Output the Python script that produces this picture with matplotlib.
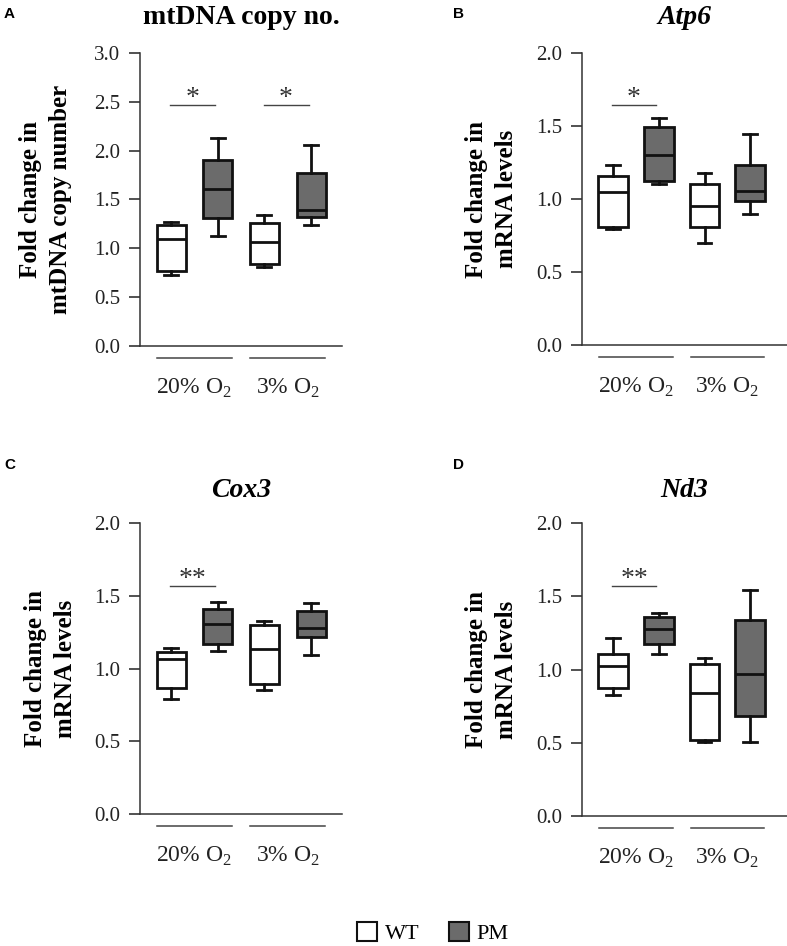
import matplotlib.pyplot as plt
from matplotlib.patches import Patch
from matplotlib.transforms import blended_transform_factory

plt.rcParams['font.family'] = ['Liberation Serif', 'DejaVu Serif']
plt.rcParams['mathtext.fontset'] = 'custom'
plt.rcParams['mathtext.rm'] = 'Liberation Serif'

genotypes = ['WT', 'PM']
groups = ['20% O$_2$', '3% O$_2$']
fills = ['white', '#6b6b6b']

# each box: whislo, q1, med, q3, whishi  (WT 20%, PM 20%, WT 3%, PM 3%)
mtdna_stats = [[0.73, 0.77, 1.10, 1.24, 1.27],
               [1.13, 1.31, 1.61, 1.905, 2.13],
               [0.81, 0.835, 1.06, 1.255, 1.34],
               [1.24, 1.325, 1.39, 1.775, 2.06]]
atp6_stats = [[0.793, 0.807, 1.047, 1.155, 1.23],
              [1.10, 1.125, 1.30, 1.49, 1.554],
              [0.697, 0.807, 0.949, 1.10, 1.177],
              [0.898, 0.987, 1.056, 1.23, 1.445]]
cox3_stats = [[0.793, 0.866, 1.068, 1.113, 1.14],
              [1.123, 1.171, 1.306, 1.411, 1.457],
              [0.85, 0.893, 1.136, 1.297, 1.324],
              [1.09, 1.216, 1.278, 1.397, 1.45]]
nd3_stats = [[0.823, 0.875, 1.024, 1.104, 1.218],
             [1.109, 1.177, 1.275, 1.355, 1.383],
             [0.503, 0.517, 0.837, 1.04, 1.081],
             [0.503, 0.686, 0.967, 1.339, 1.545]]

# significance: (box a, box b, bar height, label)
mtdna_sig = [(1, 2, 2.47, '*'), (3, 4, 2.47, '*')]
atp6_sig = [(1, 2, 1.646, '*')]
cox3_sig = [(1, 2, 1.565, '**')]
nd3_sig = [(1, 2, 1.573, '**')]

panels = [
    dict(letter='A', title='mtDNA copy no.', italic=False, stats=mtdna_stats, sig=mtdna_sig,
         ylabel='Fold change in\nmtDNA copy number', ymax=3.0,
         rect=[140, 53, 342, 346], xlim=(0.336, 4.66), width=0.62, tpad=21),
    dict(letter='B', title='Atp6', italic=True, stats=atp6_stats, sig=atp6_sig,
         ylabel='Fold change in\nmRNA levels', ymax=2.0,
         rect=[582, 53, 787, 345], xlim=(0.323, 4.80), width=0.65, tpad=21),
    dict(letter='C', title='Cox3', italic=True, stats=cox3_stats, sig=cox3_sig,
         ylabel='Fold change in\nmRNA levels', ymax=2.0,
         rect=[140, 523, 342, 814], xlim=(0.336, 4.66), width=0.62, tpad=19),
    dict(letter='D', title='Nd3', italic=True, stats=nd3_stats, sig=nd3_sig,
         ylabel='Fold change in\nmRNA levels', ymax=2.0,
         rect=[582, 523, 787, 816], xlim=(0.323, 4.80), width=0.65, tpad=19),
]
letter_pos = {'A': (4, 14), 'B': (453, 14), 'C': (4, 465), 'D': (453, 465)}
label_right = {'A': 72, 'B': 518, 'C': 77, 'D': 518}

W, H = 787, 946
fig = plt.figure(figsize=(W / 100, H / 100), dpi=100)

for p in panels:
    x0, y0, x1, y1 = p['rect']
    ax = fig.add_axes([x0 / W, 1 - y1 / H, (x1 - x0) / W, (y1 - y0) / H])
    keys = ['whislo', 'q1', 'med', 'q3', 'whishi']
    stats = [dict(zip(keys, s)) for s in p['stats']]
    bp = ax.bxp(stats, positions=[1, 2, 3, 4], widths=p['width'], capwidths=0.3,
                showfliers=False, patch_artist=True,
                boxprops=dict(edgecolor='#111111', linewidth=2.0),
                whiskerprops=dict(color='#111111', linewidth=2.0),
                capprops=dict(color='#111111', linewidth=2.0),
                medianprops=dict(color='#111111', linewidth=2.0))
    for i, box in enumerate(bp['boxes']):
        box.set_facecolor(fills[i % 2])

    ax.set_xlim(*p['xlim'])
    ax.set_ylim(0, p['ymax'])
    ax.set_yticks([v * 0.5 for v in range(int(p['ymax'] / 0.5) + 1)])
    ax.yaxis.set_major_formatter(plt.FormatStrFormatter('%.1f'))
    ax.set_xticks([1.5, 3.5])
    ax.set_xticklabels(groups, fontsize=17, color='#222222')
    ax.tick_params(axis='x', length=0, pad=22)
    ax.tick_params(axis='y', length=8, width=1.1, pad=6, labelsize=15,
                   colors='#222222', direction='out')
    for s in ['top', 'right']:
        ax.spines[s].set_visible(False)
    for s in ['left', 'bottom']:
        ax.spines[s].set_linewidth(1.1)
        ax.spines[s].set_color('#333333')

    # group underline bars
    tr = blended_transform_factory(ax.transData, ax.transAxes)
    yb = -12 / (y1 - y0)
    for c in [1.5, 3.5]:
        ax.plot([c - 0.8, c + 0.8], [yb, yb], color='#444444', lw=1.1,
                transform=tr, clip_on=False)

    for a, b, y, lab in p['sig']:
        ax.plot([a - 0.02, b - 0.05], [y, y], color='#444444', lw=1.0)
        ax.text((a + b) / 2 - 0.04, y, lab, ha='center', va='baseline',
                fontsize=20, color='#333333')

    ax.set_ylabel(p['ylabel'], fontsize=18, fontweight='bold', linespacing=1.4)
    ax.yaxis.set_label_coords((label_right[p['letter']] - x0) / (x1 - x0), 0.5)

    ax.set_title(p['title'], fontsize=20, fontweight='bold',
                 fontstyle='italic' if p['italic'] else 'normal', pad=p['tpad'])

    lx, ly = letter_pos[p['letter']]
    fig.text(lx / W, 1 - ly / H, p['letter'], fontsize=11, fontweight='bold',
             family='Liberation Sans', ha='left', va='center')

handles = [Patch(facecolor=fills[i], edgecolor='#111111', linewidth=1.5) for i in range(2)]
fig.legend(handles, genotypes, loc='center', bbox_to_anchor=(0.55, 1 - 933 / H),
           ncol=2, frameon=False, fontsize=16, handlelength=0.9, handleheight=0.9,
           handletextpad=0.35, columnspacing=1.3)

fig.savefig('out.png', dpi=100, facecolor='white')
